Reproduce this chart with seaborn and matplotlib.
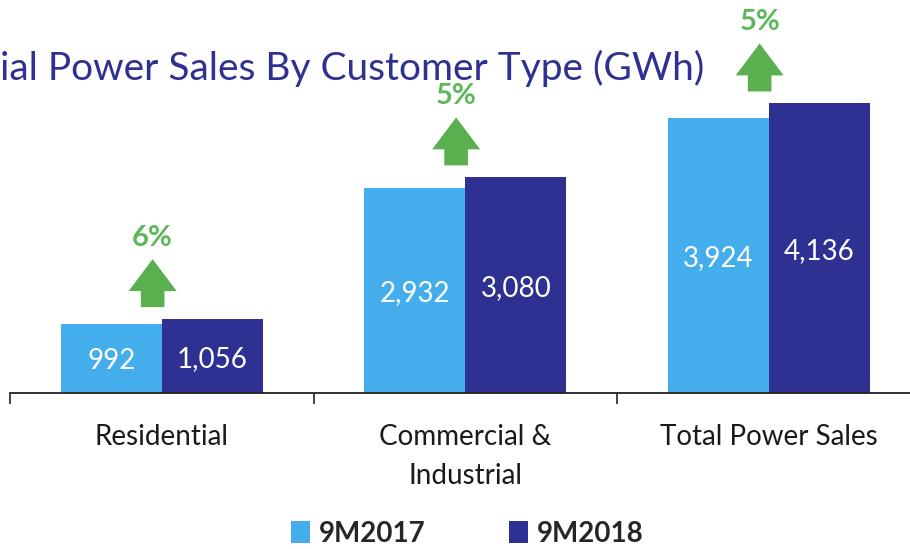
"""
Power sales by customer type - 9M2017 vs 9M2018 grouped bars
"""

import pandas as pd
import matplotlib.pyplot as plt
import seaborn as sns
from matplotlib.transforms import offset_copy
from matplotlib.ticker import FixedLocator

# Data
categories = ['Residential', 'Commercial &\nIndustrial', 'Total Power Sales']
periods = ['9M2017', '9M2018']
sales_2017 = [992, 2932, 3924]
sales_2018 = [1056, 3080, 4136]

df = pd.DataFrame({
    'Category': categories * 2,
    'Period': [periods[0]] * 3 + [periods[1]] * 3,
    'GWh': sales_2017 + sales_2018,
})

growth = [f"{round((b / a - 1) * 100):.0f}%" for a, b in zip(sales_2017, sales_2018)]

# Style
sns.set_style("white")
plt.rcParams['font.family'] = ['Lato', 'DejaVu Sans']

light_blue = '#43AEEB'
navy = '#2E3192'
green = '#5AB04E'
green_text = '#5DB85A'

fig = plt.figure(figsize=(9.1, 5.49), dpi=100)
ax = fig.add_axes([10 / 910, (549 - 393) / 549, 910.5 / 910, 393 / 549])

sns.barplot(data=df, x='Category', y='GWh', hue='Period', order=categories,
            hue_order=periods, palette=[light_blue, navy], width=2 / 3,
            saturation=1, ax=ax, edgecolor='none')

ax.set_xlim(-0.5, 2.5)
ax.set_ylim(0, 5614)
ax.set_xlabel('')
ax.set_ylabel('')
ax.set_yticks([])
for side in ['top', 'right', 'left']:
    ax.spines[side].set_visible(False)
ax.spines['bottom'].set_color('#222222')
ax.spines['bottom'].set_linewidth(1.3)

ax.xaxis.set_minor_locator(FixedLocator([-0.5, 0.5, 1.5, 2.5]))
ax.tick_params(axis='x', which='major', length=0, pad=22, labelsize=20,
               labelcolor='#1a1a1a')
ax.tick_params(axis='x', which='minor', length=8, width=1.2, color='#222222',
               direction='out', bottom=True)
for lbl in ax.get_xticklabels():
    lbl.set_linespacing(1.65)
    lbl.set_verticalalignment('top')

# Value labels inside bars
for cont in ax.containers:
    for bar in cont:
        h = bar.get_height()
        ax.annotate(f"{h:,.0f}", xy=(bar.get_x() + bar.get_width() / 2, h / 2),
                    xytext=(0, -2), textcoords='offset points',
                    ha='center', va='center', color='white', fontsize=20)

# Growth arrows above each group
for i, (top, lab) in enumerate(zip(sales_2018, growth)):
    x = i - 0.03
    tail = offset_copy(ax.transData, fig=fig, y=12, units='dots')
    tip = offset_copy(ax.transData, fig=fig, y=12 + 48, units='dots')
    ax.annotate('', xy=(x, top), xycoords=tip, xytext=(x, top), textcoords=tail,
                arrowprops=dict(arrowstyle='simple,head_width=34.5,head_length=23,tail_width=17',
                                mutation_scale=1, color=green, shrinkA=0, shrinkB=0, lw=0))
    lab_tr = offset_copy(ax.transData, fig=fig, y=12 + 48 + 21, units='dots')
    ax.text(x, top, lab, transform=lab_tr, ha='center', va='center',
            color=green_text, fontsize=21, fontweight='bold')

# Title (cut at the left edge as in the source)
fig.text(0, 1 - 80 / 549, 'ial Power Sales By Customer Type (GWh)', ha='left',
         va='baseline', color=navy, fontsize=28)

# Legend at the bottom
handles, labels = ax.get_legend_handles_labels()
ax.get_legend().remove()
fig.legend(handles, labels, loc='center', bbox_to_anchor=(467 / 910, 1 - 534 / 549),
           ncol=2, frameon=False, handlelength=0.7, handleheight=0.85,
           handletextpad=0.3, columnspacing=3.0,
           prop={'size': 20, 'weight': 'bold'})

plt.savefig('out.png', dpi=100)
